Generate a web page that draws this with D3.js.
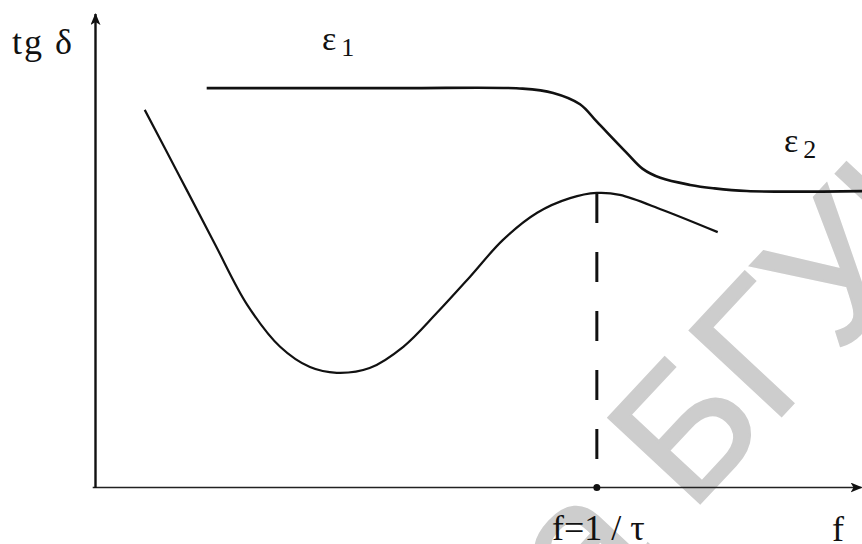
<!DOCTYPE html>
<html>
<head>
<meta charset="utf-8">
<script src="https://cdn.jsdelivr.net/npm/d3@7"></script>
<style>
  html, body { margin: 0; padding: 0; background: #fff; }
  svg { display: block; }
</style>
</head>
<body>
<svg id="chart" width="862" height="544"></svg>
<script>
// Frequency (f) and loss axis, arbitrary units 0..100
const epsF    = [14.6, 40.0, 55.9, 59.9, 63.4, 65.6, 69.5, 71.6, 73.9, 77.8, 80.8, 85.2, 101];
const epsVal  = [84.5, 84.5, 84.4, 83.5, 81.1, 77.4, 70.8, 67.4, 65.5, 64.0, 63.3, 62.7, 62.7];

const lossF   = [6.5, 11.1, 15.6, 19.9, 24.2, 28.1, 31.6, 35.9, 40.3, 44.7, 49.0, 53.3, 57.8, 62.1, 65.6, 68.6, 74.2, 81.4];
const lossVal = [79.9, 65.7, 51.7, 38.6, 29.7, 25.4, 24.2, 25.2, 29.7, 36.9, 44.5, 52.3, 58.1, 61.2, 62.3, 61.9, 58.7, 54.0];

// Relaxation frequency f = 1/τ and the loss maximum there
const relaxF = 65.6;
const relaxLoss = 62.3;

const labels = { y: "tg δ", x: "f", eps: "ε", relax: "f=1 / τ" };
const epsSubs = ["1", "2"];
const watermark = "Библиотека БГУИР";

const serif = "'Liberation Serif', 'Times New Roman', 'DejaVu Serif', serif";

const svg = d3.select("#chart");
const x = d3.scaleLinear().domain([0, 100]).range([95, 860]);
const y = d3.scaleLinear().domain([0, 100]).range([487, 15]);

// faint diagonal library stamp behind the drawing
const wm = svg.append("text")
  .style("font-family", "'Liberation Sans', Arial, sans-serif")
  .attr("font-size", 182)
  .attr("fill", "#cdcdcd")
  .attr("stroke", "#cdcdcd")
  .attr("stroke-width", 2.5)
  .text(watermark);
const prefix = wm.node().getSubStringLength(0, 11);
wm.attr("x", -prefix).attr("y", 0)
  .attr("transform", "translate(690,514) rotate(-47)");

// axes with arrowheads
const defs = svg.append("defs");
defs.append("marker")
  .attr("id", "arrow")
  .attr("viewBox", "0 0 12 10")
  .attr("refX", 11).attr("refY", 5)
  .attr("markerWidth", 12).attr("markerHeight", 10)
  .attr("markerUnits", "userSpaceOnUse")
  .attr("orient", "auto")
  .append("path")
  .attr("d", "M0,0 L12,5 L0,10 L3,5 Z")
  .attr("fill", "#111");

const xAxis = svg.append("g")
  .attr("transform", `translate(0,${y(0)})`)
  .call(d3.axisBottom(x).tickValues([]).tickSizeOuter(0));
xAxis.select(".domain")
  .attr("d", `M${x(-0.3)},0.5H${x(100.2)}`)
  .attr("stroke", "#222").attr("stroke-width", 1.6)
  .attr("marker-end", "url(#arrow)");

const yAxis = svg.append("g")
  .attr("transform", `translate(${x(0)},0)`)
  .call(d3.axisLeft(y).tickValues([]).tickSizeOuter(0));
yAxis.select(".domain")
  .attr("d", `M0.5,${y(-0.2)}V${y(100.2)}`)
  .attr("stroke", "#111").attr("stroke-width", 2.4)
  .attr("marker-end", "url(#arrow)");

// curves
const line = d3.line()
  .x(d => x(d[0]))
  .y(d => y(d[1]))
  .curve(d3.curveCatmullRom.alpha(0.5));

svg.append("path")
  .datum(epsF.map((f, i) => [f, epsVal[i]]))
  .attr("d", line)
  .attr("fill", "none")
  .attr("stroke", "#111")
  .attr("stroke-width", 2.6);

svg.append("path")
  .datum(lossF.map((f, i) => [f, lossVal[i]]))
  .attr("d", line)
  .attr("fill", "none")
  .attr("stroke", "#111")
  .attr("stroke-width", 2.2);

// dashed drop line from the loss maximum to the frequency axis
svg.append("line")
  .attr("x1", x(relaxF)).attr("x2", x(relaxF))
  .attr("y1", y(relaxLoss)).attr("y2", y(0))
  .attr("stroke", "#111")
  .attr("stroke-width", 3)
  .attr("stroke-dasharray", "30,29");

svg.append("circle")
  .attr("cx", x(relaxF)).attr("cy", y(0) + 0.5)
  .attr("r", 3.5)
  .attr("fill", "#111");

// labels
function label(px, py, size, txt) {
  return svg.append("text")
    .attr("x", px).attr("y", py)
    .attr("font-family", serif)
    .style("font-family", serif)
    .attr("font-size", size)
    .attr("fill", "#111")
    .attr("xml:space", "preserve")
    .text(txt);
}

label(12, 54, 36, labels.y).attr("letter-spacing", 2);

function epsLabel(px, py, sub) {
  const t = label(px, py, 34, labels.eps);
  t.append("tspan").attr("dx", 5).attr("dy", 6).attr("font-size", 26).text(sub);
}
epsLabel(322, 50, epsSubs[0]);
epsLabel(784, 152, epsSubs[1]);

label(552, 540, 36, labels.relax);
label(832, 541, 36, labels.x);
</script>
</body>
</html>
